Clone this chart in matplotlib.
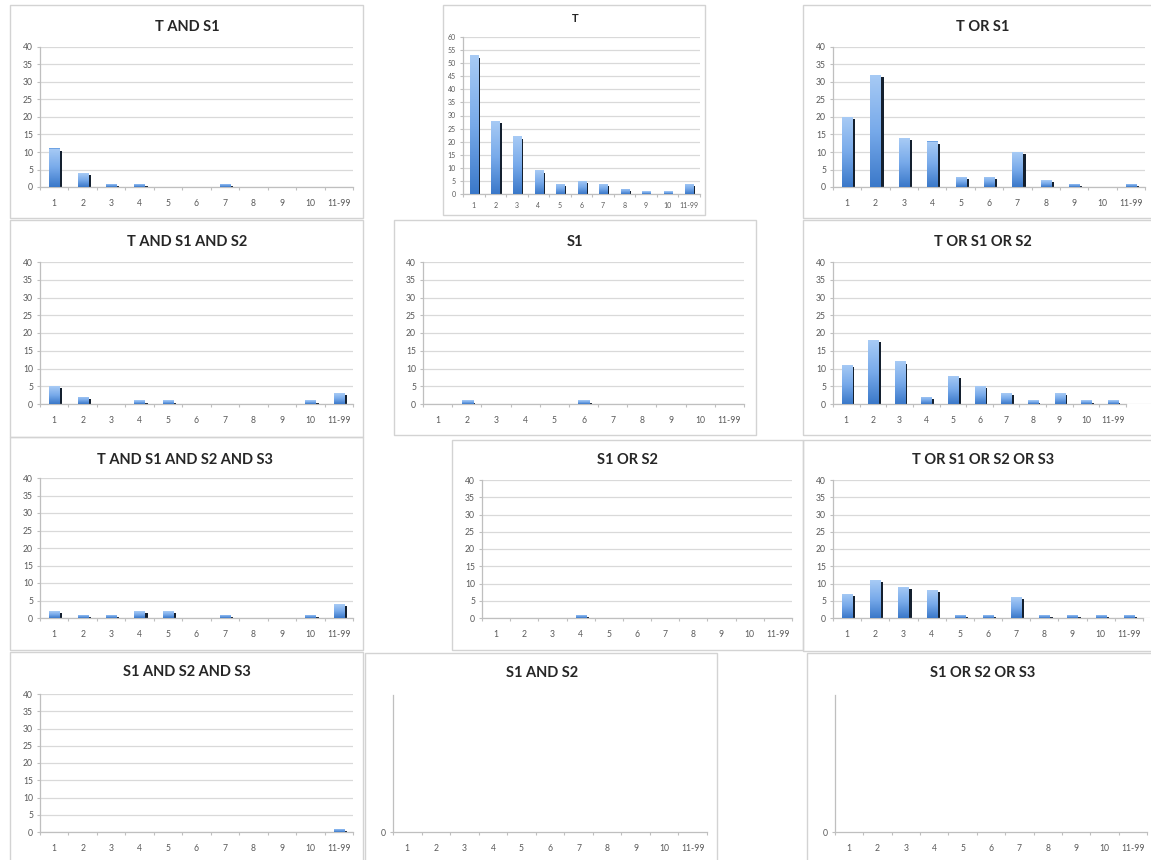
import numpy as np
import matplotlib
matplotlib.use("Agg")
import matplotlib.pyplot as plt
from matplotlib.colors import LinearSegmentedColormap
from matplotlib.patches import Rectangle

plt.rcParams.update({
    "font.family": ["Lato", "DejaVu Sans"],
})

W, H = 1151, 860

CATS = ["1", "2", "3", "4", "5", "6", "7", "8", "9", "10", "11-99"]

t_and_s1 = [11, 4, 1, 1, 0, 0, 1, 0, 0, 0, 0]
t_only = [53, 28, 22, 9, 4, 5, 4, 2, 1, 1, 4]
t_or_s1 = [20, 32, 14, 13, 3, 3, 10, 2, 1, 0, 1]
t_and_s1_s2 = [5, 2, 0, 1, 1, 0, 0, 0, 0, 1, 3]
s1_only = [0, 1, 0, 0, 0, 1, 0, 0, 0, 0, 0]
t_or_s1_s2 = [11, 18, 12, 2, 8, 5, 3, 1, 3, 1, 1]
t_and_s1_s2_s3 = [2, 1, 1, 2, 2, 0, 1, 0, 0, 1, 4]
s1_or_s2 = [0, 0, 0, 1, 0, 0, 0, 0, 0, 0, 0]
t_or_s1_s2_s3 = [7, 11, 9, 8, 1, 1, 6, 1, 1, 1, 1]
s1_and_s2_and_s3 = [0, 0, 0, 0, 0, 0, 0, 0, 0, 0, 1]
s1_and_s2 = [0, 0, 0, 0, 0, 0, 0, 0, 0, 0, 0]
s1_or_s2_or_s3 = [0, 0, 0, 0, 0, 0, 0, 0, 0, 0, 0]

# (title, values, frame px, axes px [l, top, r, zero], title px, ymax, grid right px)
PANELS = [
    ("T AND S1", t_and_s1, (10, 5, 363, 218), (40, 47, 353, 187), (187, 27), 40, None),
    ("T", t_only, (443, 5, 705, 215), (463, 37, 700, 194), (575, 18), 60, None),
    ("T OR S1", t_or_s1, (803, 5, 1160, 218), (833, 47, 1145, 187), (983, 27), 40, None),
    ("T AND S1 AND S2", t_and_s1_s2, (10, 220, 363, 437), (40, 262, 353, 404), (187, 242), 40, None),
    ("S1", s1_only, (394, 220, 756, 435), (423, 262, 744, 404), (575, 242), 40, None),
    ("T OR S1 OR S2", t_or_s1_s2, (803, 220, 1160, 435), (833, 262, 1126, 404), (983, 242), 40, 1151),
    ("T AND S1 AND S2 AND S3", t_and_s1_s2_s3, (10, 437, 363, 650), (40, 478, 353, 618), (185, 460), 40, None),
    ("S1 OR S2", s1_or_s2, (452, 440, 803, 650), (482, 480, 792, 618), (627, 460), 40, None),
    ("T OR S1 OR S2 OR S3", t_or_s1_s2_s3, (803, 440, 1160, 651), (833, 480, 1143, 618), (983, 460), 40, 1150),
    ("S1 AND S2 AND S3", s1_and_s2_and_s3, (10, 652, 363, 870), (40, 694, 353, 832), (187, 672), 40, None),
    ("S1 AND S2", s1_and_s2, (365, 653, 717, 870), (393, 695, 707, 832), (542, 673), 0, None),
    ("S1 OR S2 OR S3", s1_or_s2_or_s3, (807, 653, 1160, 870), (835, 695, 1147, 832), (983, 673), 0, None),
]

GRID = "#d9d9d9"
AXC = "#bfbfbf"
TXT = "#595959"
CMAP = LinearSegmentedColormap.from_list("xlbar", ["#3a78c9", "#78aaea", "#a8cbf5"])


def draw_bars(ax, vals, ymax):
    x = np.arange(len(vals))
    v = np.array(vals, dtype=float)
    drop = 0.015 * ymax
    ax.bar(x + 0.245, np.clip(v - drop, 0, None), width=0.09, color="#14202f", zorder=2)
    bars = ax.bar(x + 0.01, v, width=0.38, color="#6fa3e3", zorder=3)
    grad = np.linspace(0, 1, 256).reshape(-1, 1)
    for b in bars:
        if b.get_height() <= 0:
            continue
        im = ax.imshow(grad, extent=[b.get_x(), b.get_x() + b.get_width(), 0, b.get_height()],
                       origin="lower", cmap=CMAP, aspect="auto", zorder=3.5)
        im.set_clip_path(b)


fig = plt.figure(figsize=(W / 100, H / 100), dpi=100)

for title, vals, frame, axp, tpos, ymax, gright in PANELS:
    fl, ft, fr, fb = frame
    fig.patches.append(Rectangle((fl / W, 1 - fb / H), (fr - fl) / W, (fb - ft) / H,
                                 transform=fig.transFigure, fill=False,
                                 edgecolor="#d3d3d3", lw=1.0, zorder=0))
    l, t, r, z = axp
    right = gright if gright else r
    ax = fig.add_axes([l / W, 1 - z / H, (right - l) / W, (z - t) / H])
    ax.patch.set_alpha(0)
    n = len(CATS)
    cw = (r - l) / n
    xmax = n - 0.5 + (right - r) / cw

    if ymax > 0:
        draw_bars(ax, vals, ymax)
        ax.set_ylim(0, ymax)
        ax.set_yticks(np.arange(0, ymax + 1, 5))
        ax.yaxis.grid(True, color=GRID, lw=0.9)
    else:
        ax.set_ylim(0, 1)
        ax.set_yticks([0])
    ax.set_axisbelow(True)
    ax.set_xlim(-0.5, xmax)
    ax.set_xticks(np.arange(n))
    ax.set_xticklabels(CATS)
    ax.set_xticks(np.arange(n + 1) - 0.5, minor=True)

    for s in ("top", "right"):
        ax.spines[s].set_visible(False)
    for s in ("left", "bottom"):
        ax.spines[s].set_color(AXC)
        ax.spines[s].set_linewidth(0.9)
    ax.spines["bottom"].set_bounds(-0.5, n - 0.5)

    small = title == "T"
    fs = 5.0 if small else 6.2
    ax.tick_params(axis="x", which="major", length=0, pad=5.5 if small else 8.5,
                   labelsize=fs, labelcolor=TXT)
    ax.tick_params(axis="x", which="minor", length=2.5, color=AXC, width=0.8)
    ax.tick_params(axis="y", length=2.5, color=AXC, width=0.8, pad=2.5,
                   labelsize=fs, labelcolor=TXT)

    fig.text(tpos[0] / W, 1 - tpos[1] / H, title, ha="center", va="center",
             fontsize=8 if small else 10.5, fontweight="bold", color="#262626")

fig.savefig("out.png", dpi=100, facecolor="white")
